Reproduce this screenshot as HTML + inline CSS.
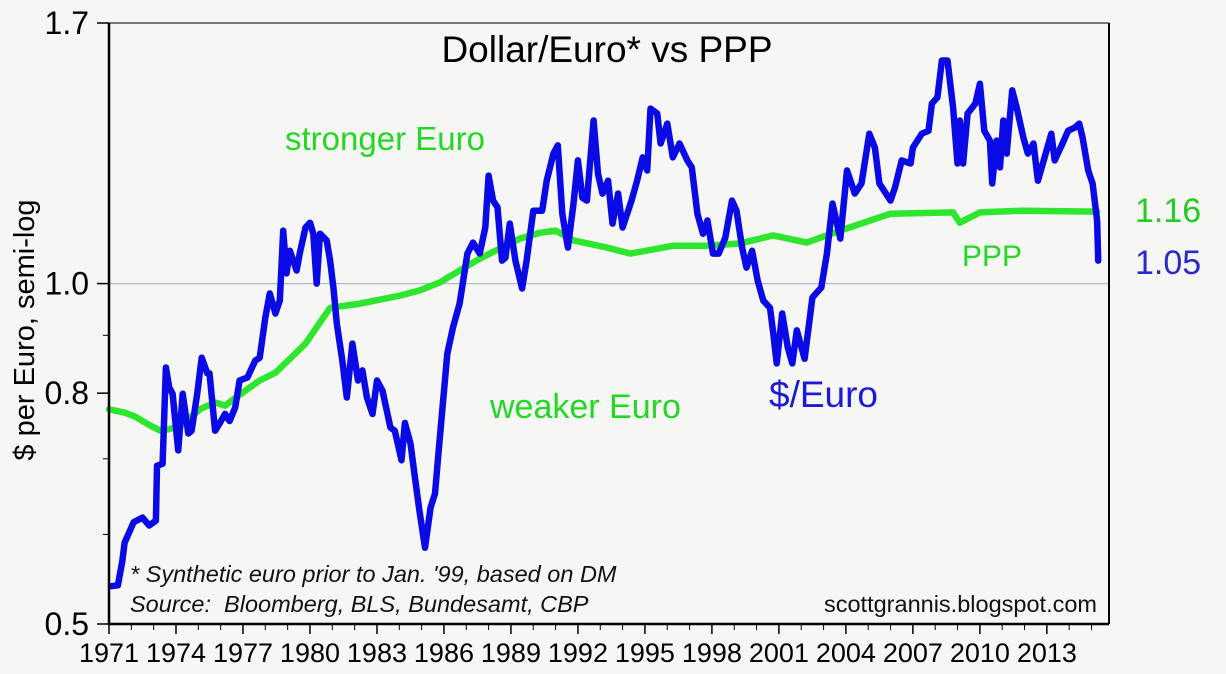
<!DOCTYPE html>
<html><head><meta charset="utf-8"><style>
body{margin:0;background:#f6f6f4;}
svg{display:block;font-family:"Liberation Sans",sans-serif;}
</style></head><body>
<svg id="chart" width="1226" height="674" viewBox="0 0 1226 674" xmlns="http://www.w3.org/2000/svg">
<rect width="1226" height="674" fill="#f6f6f4"/>
<g id="grid"></g>
<g id="series"></g>
<g id="axes"></g>
<text x="607" y="62" font-size="37" text-anchor="middle" fill="#000">Dollar/Euro* vs PPP</text>
<text transform="translate(34,330) rotate(-90)" font-size="29" text-anchor="middle" fill="#000">$ per Euro, semi-log</text>
<text x="285" y="150" font-size="33" fill="#22d822">stronger Euro</text>
<text x="490" y="418" font-size="34" fill="#22d822">weaker Euro</text>
<text x="769" y="407" font-size="37" fill="#1a1ad8">$/Euro</text>
<text x="962" y="266" font-size="30" fill="#22d822">PPP</text>
<text x="1135" y="222" font-size="34" fill="#22cc22">1.16</text>
<text x="1135" y="274" font-size="34" fill="#2a2acc">1.05</text>
<text x="130" y="582" font-size="23.5" font-style="italic" fill="#111">* Synthetic euro prior to Jan. '99, based on DM</text>
<text x="130" y="612" font-size="23.5" font-style="italic" fill="#111" xml:space="preserve">Source:  Bloomberg, BLS, Bundesamt, CBP</text>
<text x="1097" y="612" font-size="23.5" text-anchor="end" fill="#111">scottgrannis.blogspot.com</text>
</svg>
<script>
const euroYears=[1971.1,1971.4,1971.6,1971.7,1972.1,1972.5,1972.8,1973.1,1973.15,1973.4,1973.55,1973.7,1973.85,1974.1,1974.3,1974.55,1974.7,1974.95,1975.15,1975.4,1975.5,1975.75,1975.95,1976.2,1976.4,1976.65,1976.85,1977.2,1977.55,1977.75,1978.0,1978.2,1978.45,1978.65,1978.8,1978.95,1979.1,1979.4,1979.55,1979.8,1980.0,1980.15,1980.3,1980.45,1980.75,1980.9,1981.05,1981.2,1981.45,1981.65,1981.9,1982.15,1982.35,1982.55,1982.8,1983.0,1983.25,1983.6,1983.8,1984.1,1984.25,1984.5,1984.7,1984.9,1985.15,1985.4,1985.6,1985.75,1986.15,1986.4,1986.7,1987.05,1987.3,1987.6,1987.85,1988.0,1988.2,1988.4,1988.6,1988.75,1988.95,1989.2,1989.5,1989.7,1990.0,1990.4,1990.6,1990.9,1991.1,1991.3,1991.55,1991.8,1992.0,1992.2,1992.4,1992.7,1992.9,1993.1,1993.35,1993.55,1993.8,1994.0,1994.4,1994.65,1994.9,1995.1,1995.25,1995.55,1995.7,1996.0,1996.25,1996.55,1996.9,1997.1,1997.35,1997.6,1997.8,1998.05,1998.3,1998.6,1998.9,1999.1,1999.35,1999.55,1999.8,2000.05,2000.3,2000.6,2000.75,2000.9,2001.15,2001.4,2001.6,2001.8,2002.15,2002.5,2002.9,2003.15,2003.4,2003.75,2004.05,2004.4,2004.7,2005.05,2005.3,2005.5,2006.0,2006.2,2006.5,2006.9,2007.0,2007.4,2007.7,2007.85,2008.1,2008.3,2008.55,2008.8,2009.0,2009.1,2009.25,2009.45,2009.8,2010.0,2010.2,2010.45,2010.55,2010.75,2010.9,2011.05,2011.2,2011.45,2011.65,2011.95,2012.15,2012.4,2012.6,2012.9,2013.2,2013.35,2013.7,2013.95,2014.25,2014.45,2014.6,2014.85,2015.05,2015.25,2015.3];
const euroValues=[0.540,0.541,0.569,0.590,0.615,0.621,0.611,0.617,0.690,0.693,0.843,0.809,0.799,0.712,0.799,0.737,0.741,0.799,0.860,0.833,0.833,0.741,0.752,0.767,0.756,0.777,0.821,0.826,0.855,0.860,0.933,0.980,0.941,0.966,1.114,1.021,1.069,1.027,1.065,1.121,1.132,1.107,1.000,1.107,1.092,1.048,0.992,0.922,0.855,0.793,0.885,0.821,0.838,0.793,0.767,0.821,0.804,0.746,0.741,0.698,0.753,0.722,0.674,0.630,0.584,0.634,0.652,0.707,0.867,0.914,0.960,1.063,1.087,1.063,1.121,1.246,1.184,1.168,1.048,1.054,1.130,1.048,0.990,1.048,1.160,1.160,1.233,1.303,1.325,1.153,1.076,1.177,1.285,1.191,1.184,1.394,1.251,1.201,1.233,1.130,1.201,1.121,1.184,1.233,1.293,1.259,1.428,1.414,1.330,1.385,1.293,1.330,1.285,1.267,1.153,1.107,1.137,1.063,1.063,1.098,1.184,1.160,1.076,1.033,1.069,1.006,0.966,0.952,0.903,0.850,0.941,0.878,0.850,0.909,0.858,0.972,0.992,1.063,1.177,1.096,1.259,1.201,1.226,1.357,1.319,1.226,1.184,1.216,1.285,1.277,1.319,1.357,1.365,1.443,1.461,1.575,1.575,1.431,1.277,1.394,1.277,1.414,1.443,1.502,1.365,1.338,1.226,1.338,1.267,1.394,1.303,1.482,1.431,1.346,1.303,1.330,1.233,1.293,1.357,1.285,1.330,1.365,1.374,1.385,1.346,1.259,1.226,1.137,1.048];
const pppYears=[1971.0,1971.7,1972.15,1972.85,1973.3,1973.75,1974.2,1974.6,1975.1,1975.75,1976.2,1976.5,1977.1,1977.75,1978.45,1979.1,1979.8,1980.45,1980.9,1982.25,1984.05,1984.9,1985.8,1986.7,1987.6,1988.5,1989.4,1990.3,1991.0,1991.8,1993.3,1994.35,1996.25,1997.8,1999.25,2000.75,2002.25,2003.75,2006.0,2008.8,2009.1,2010.0,2011.9,2015.25];
const pppValues=[0.774,0.769,0.763,0.749,0.741,0.744,0.749,0.760,0.775,0.785,0.780,0.788,0.804,0.821,0.834,0.858,0.885,0.924,0.952,0.960,0.976,0.986,1.002,1.027,1.052,1.074,1.096,1.109,1.114,1.092,1.076,1.063,1.080,1.080,1.085,1.103,1.087,1.114,1.153,1.156,1.132,1.156,1.160,1.158];
const yTickValues=[1.7,1.0,0.8,0.5];
const yTickLabels=["1.7","1.0","0.8","0.5"];
const yMinorValues=[0.6,0.7,0.9];
const xTickYears=[1971,1974,1977,1980,1983,1986,1989,1992,1995,1998,2001,2004,2007,2010,2013];

const PL=109,PR=1109,PT=23,PB=624,X0=1971,PXY=22.33,VMIN=0.5,VMAX=1.7;
const SVGNS="http://www.w3.org/2000/svg";
function xs(yr){return PL+(yr-X0)*PXY;}
function ys(v){return PB-Math.log(v/VMIN)/Math.log(VMAX/VMIN)*(PB-PT);}
function mk(tag,attrs,parent){const e=document.createElementNS(SVGNS,tag);for(const k in attrs)e.setAttribute(k,attrs[k]);parent.appendChild(e);return e;}
const gridG=document.getElementById('grid'),axesG=document.getElementById('axes'),seriesG=document.getElementById('series');

const gl=mk('line',{x1:PL,x2:PR,y1:ys(1.0),y2:ys(1.0),stroke:'#a9bccf','stroke-width':1.2},gridG);



function drawLine(xsArr,vsArr,color,name){
  let d='';for(let i=0;i<xsArr.length;i++){d+=(i?'L':'M')+xs(xsArr[i]).toFixed(1)+','+ys(vsArr[i]).toFixed(1);}
  const p=mk('path',{d:d,fill:'none',stroke:color,'stroke-width':6.5,'stroke-linejoin':'round','stroke-linecap':'round'},seriesG);
  
  
}
drawLine(pppYears,pppValues,'#2ee62e','ppp-line');
drawLine(euroYears,euroValues,'#0a0ae6','dollar-euro-line');

const topBorder=mk('line',{x1:PL,x2:PR,y1:PT,y2:PT,stroke:'#777','stroke-width':2},axesG);


const rightBorder=mk('line',{x1:PR,x2:PR,y1:PT,y2:PB,stroke:'#000','stroke-width':2},axesG);


const yax=mk('line',{x1:PL,x2:PL,y1:PT,y2:PB+1,stroke:'#000','stroke-width':2.5},axesG);


const xax=mk('line',{x1:PL-1,x2:PR,y1:PB,y2:PB,stroke:'#000','stroke-width':2.5},axesG);



yTickValues.forEach((v,i)=>{
  const y=ys(v);
  const t=mk('line',{x1:PL-12,x2:PL,y1:y,y2:y,stroke:'#000','stroke-width':1.5},axesG);
  
  
  const tx=mk('text',{x:PL-20,y:y+11,'font-size':32,'text-anchor':'end',fill:'#000'},axesG);
  tx.textContent=yTickLabels[i];
  
  
});
yMinorValues.forEach(v=>{
  const y=ys(v);
  const t=mk('line',{x1:PL-6,x2:PL,y1:y,y2:y,stroke:'#000','stroke-width':1},axesG);
  
  
});
for(let yr=1971;yr<=2015;yr++){
  const x=xs(yr);const major=xTickYears.includes(yr);
  const t=mk('line',{x1:x,x2:x,y1:PB,y2:PB+(major?10:6),stroke:'#000','stroke-width':major?1.5:1},axesG);
  
  
}
xTickYears.forEach(yr=>{
  const tx=mk('text',{x:xs(yr),y:662,'font-size':27,'text-anchor':'middle',fill:'#000'},axesG);
  tx.textContent=String(yr);
  
  
});
</script>
</body></html>
